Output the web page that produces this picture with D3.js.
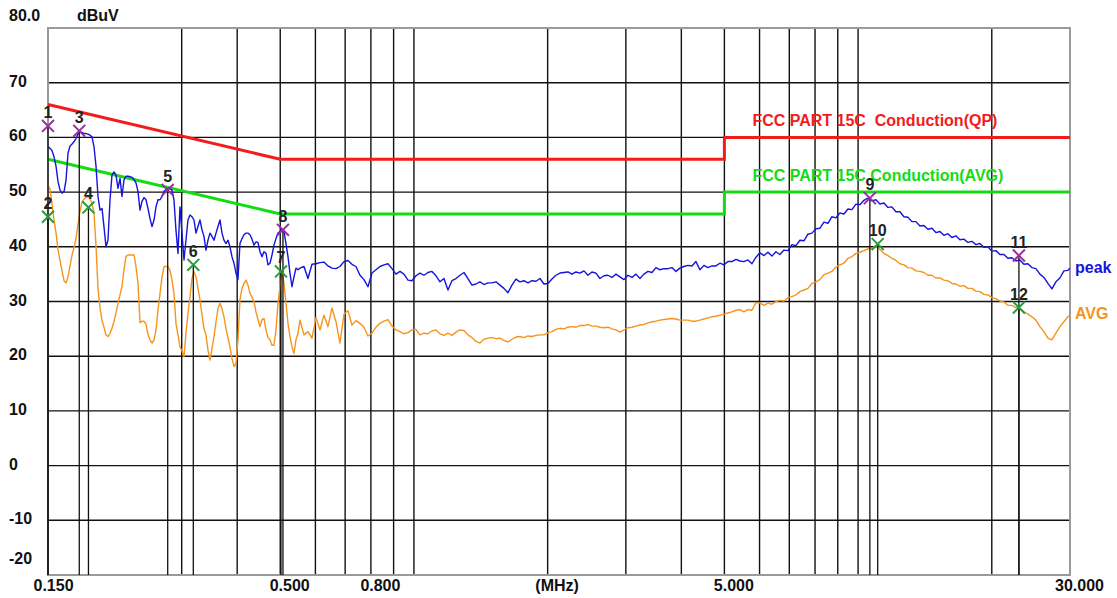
<!DOCTYPE html>
<html><head><meta charset="utf-8">
<script src="https://cdn.jsdelivr.net/npm/d3@7"></script>
<style>
body{margin:0;background:#fff;}
svg{display:block;}
text{font-family:"Liberation Sans",Arial,Helvetica,sans-serif;}
</style>
</head><body>
<svg id="chart" width="1117" height="598"></svg>
<script>
// ---------- DATA ----------
// Sweep frequencies (MHz)
const sweepMHz = [
 0.1500,0.1516,0.1531,0.1547,0.1564,0.1580,0.1596,0.1613,0.1630,0.1647,
 0.1664,0.1681,0.1699,0.1716,0.1734,0.1752,0.1771,0.1789,0.1808,0.1827,
 0.1846,0.1865,0.1884,0.1904,0.1924,0.1944,0.1964,0.1985,0.2005,0.2026,
 0.2047,0.2069,0.2090,0.2112,0.2134,0.2156,0.2179,0.2201,0.2224,0.2247,
 0.2271,0.2295,0.2318,0.2343,0.2367,0.2392,0.2417,0.2442,0.2467,0.2493,
 0.2519,0.2545,0.2572,0.2599,0.2626,0.2653,0.2681,0.2709,0.2737,0.2765,
 0.2794,0.2823,0.2853,0.2882,0.2912,0.2943,0.2973,0.3004,0.3036,0.3067,
 0.3099,0.3132,0.3164,0.3197,0.3231,0.3264,0.3298,0.3333,0.3367,0.3402,
 0.3438,0.3474,0.3510,0.3547,0.3584,0.3621,0.3659,0.3697,0.3735,0.3774,
 0.3814,0.3853,0.3893,0.3934,0.3975,0.4016,0.4058,0.4101,0.4143,0.4186,
 0.4230,0.4274,0.4319,0.4364,0.4409,0.4455,0.4502,0.4549,0.4596,0.4644,
 0.4692,0.4741,0.4791,0.4840,0.4891,0.4942,0.4993,0.5045,0.5098,0.5151,
 0.5205,0.5259,0.5314,0.5369,0.5425,0.5482,0.5539,
 0.5655,0.5773,0.5894,0.6018,0.6144,0.6273,0.6404,0.6538,0.6675,0.6815,
 0.6958,0.7104,0.7252,0.7404,0.7560,0.7718,0.7880,0.8045,0.8213,0.8385,
 0.8561,0.8740,0.8924,0.9111,0.9301,0.9496,0.9695,0.9898,1.0106,1.0317,
 1.0534,1.0754,1.0980,1.1210,1.1445,1.1684,1.1929,1.2179,1.2434,1.2695,
 1.2961,1.3232,1.3510,1.3793,1.4082,1.4377,1.4678,1.4985,1.5299,1.5620,
 1.5947,1.6281,1.6622,1.6971,1.7326,1.7689,1.8060,1.8438,1.8825,1.9219,
 1.9622,2.0033,2.0452,2.0881,2.1319,2.1765,2.2221,2.2687,2.3162,2.3647,
 2.4143,2.4648,2.5165,2.5692,2.6230,2.6780,2.7341,2.7914,2.8499,2.9096,
 2.9705,3.0328,3.0963,3.1612,3.2274,3.2951,3.3641,3.4346,3.5065,3.5800,
 3.6550,3.7316,3.8098,3.8896,3.9711,4.0543,4.1392,4.2260,4.3145,4.4049,
 4.4972,4.5914,4.6876,4.7858,4.8861,4.9884,5.0930,5.1997,5.3086,5.4198,
 5.5334,5.6493,5.7677,5.8885,6.0119,6.1378,6.2664,6.3977,6.5317,6.6686,
 6.8084,6.9510,7.0967,7.2454,7.3972,7.5522,7.7104,7.8720,8.0369,8.2052,
 8.3771,8.5526,8.7318,8.9148,9.1015,9.2922,9.4869,9.6857,9.8886,10.096,
 10.307,10.523,10.744,10.969,11.198,11.433,11.673,11.917,12.167,12.422,
 12.682,12.948,13.219,13.496,13.779,14.067,14.362,14.663,14.970,15.284,
 15.604,15.931,16.265,16.606,16.954,17.309,17.672,18.042,18.420,18.806,
 19.200,19.602,20.013,20.432,20.860,21.297,21.744,22.199,22.664,23.139,
 23.624,24.118,24.624,25.140,25.667,26.204,26.753,27.314,27.886,28.470,
 29.067,29.676,30.000
];
// Peak detector trace (dBuV)
const peakDb = [
 58.3,58.0,57.6,56.5,54.7,51.9,50.4,49.8,50.1,52.2,
 57.1,58.4,58.8,59.2,59.8,60.6,61.0,60.9,60.7,60.7,
 60.6,60.4,60.1,58.3,54.7,49.2,46.7,47.0,43.7,40.0,
 41.2,48.6,53.1,53.7,53.1,50.7,52.5,49.2,52.2,52.9,
 52.9,52.8,52.7,52.3,51.7,50.1,46.7,48.3,49.0,48.6,
 47.0,45.2,43.7,44.9,47.3,48.6,48.6,49.2,50.1,50.5,
 50.7,50.7,50.3,48.6,43.1,38.8,47.3,42.5,37.6,41.2,
 44.9,45.8,45.5,44.9,42.5,43.7,44.9,43.1,41.9,39.4,
 41.2,42.5,41.9,41.2,42.5,43.7,44.9,42.5,41.2,40.6,
 41.2,40.0,38.2,37.0,35.2,34.0,40.6,41.5,42.2,42.5,
 42.5,42.2,41.4,40.3,40.9,40.8,39.1,38.2,39.1,38.8,
 36.7,37.0,38.5,40.3,41.5,42.5,42.8,43.1,42.8,40.6,
 38.2,35.2,32.7,34.5,36.1,35.8,36.1,
 36.4,34.2,36.8,36.9,37.1,37.2,36.5,36.1,36.0,36.4,
 37.3,37.5,36.8,36.4,34.8,34.0,32.7,35.2,35.8,36.4,
 36.7,36.9,36.0,35.0,35.5,35.0,33.9,33.8,34.7,35.2,
 34.8,35.3,35.5,34.7,33.6,34.2,32.1,33.8,34.2,34.8,
 35.3,34.2,33.0,33.2,33.6,33.1,33.4,33.4,33.6,33.0,
 32.4,31.6,33.0,34.1,33.6,33.8,33.4,33.8,33.7,34.2,
 33.2,33.3,34.1,34.8,35.2,35.3,35.4,35.0,35.4,35.2,
 35.6,34.8,35.4,35.2,34.2,34.7,34.8,34.4,35.0,34.5,
 34.0,34.8,34.4,35.0,34.2,35.0,35.5,35.3,36.2,35.8,
 36.0,36.0,36.2,35.5,36.1,36.4,36.6,36.5,37.3,35.8,
 36.6,36.2,36.5,36.5,37.0,36.7,37.3,37.3,37.7,37.4,
 37.3,37.6,36.9,38.1,38.9,38.4,39.0,38.3,39.1,38.6,
 39.4,39.3,40.4,40.2,41.2,41.1,42.3,42.5,43.3,43.4,
 44.5,44.3,45.5,45.3,46.2,46.0,46.9,46.8,47.8,47.7,
 48.5,48.9,48.4,48.6,47.8,48.0,47.2,47.3,46.4,46.4,
 45.5,45.4,44.6,44.6,43.8,43.9,43.2,43.4,42.6,42.8,
 42.1,42.4,41.7,42.0,41.3,41.4,40.8,41.0,40.4,40.6,
 39.9,40.0,39.2,39.3,38.6,38.6,37.9,38.0,37.4,37.6,
 36.8,36.9,36.2,36.0,35.0,34.4,33.3,32.3,33.6,34.3,
 35.6,35.7,36.1
];
// Average detector trace (dBuV)
const avgDb = [
 51.3,50.5,48.0,45.0,42.5,39.5,37.5,35.6,33.8,33.4,
 34.5,36.5,38.5,39.8,41.5,44.0,46.5,48.2,48.7,49.0,
 49.2,48.7,48.0,46.2,40.2,32.3,28.9,26.5,25.3,23.9,
 23.6,24.2,25.1,26.3,27.9,29.7,31.2,32.7,35.8,38.2,
 38.5,38.5,38.5,38.5,36.4,33.3,26.1,26.4,26.4,25.8,
 24.0,23.0,22.4,23.0,24.8,28.5,31.5,34.5,36.4,36.4,
 36.4,35.7,33.9,31.5,26.0,23.9,21.7,21.0,19.9,24.2,
 27.8,30.9,34.2,35.5,34.5,32.4,30.3,27.5,25.1,23.9,
 21.1,19.3,21.4,23.6,26.3,28.7,29.7,28.7,27.2,25.1,
 23.3,21.7,19.6,18.1,18.7,23.0,30.3,32.4,33.3,33.9,
 33.0,31.5,30.8,30.0,28.1,26.7,25.4,26.7,26.9,24.8,
 23.4,23.0,22.0,22.0,24.8,29.7,32.7,35.6,33.3,29.7,
 26.0,23.6,21.7,20.5,23.0,24.2,26.6,
 23.9,24.5,23.3,27.1,24.8,27.5,25.4,28.8,26.3,22.4,
 27.7,28.3,25.7,26.5,26.0,25.3,23.7,24.2,25.3,26.0,
 26.4,26.7,25.5,24.8,24.5,24.1,24.3,24.8,24.9,23.9,
 24.2,24.1,24.6,24.8,24.1,23.8,24.2,23.8,24.4,24.8,
 24.7,23.9,23.4,22.7,22.4,23.1,23.3,23.4,23.2,23.3,
 22.9,22.6,23.1,23.5,23.6,23.4,23.7,23.6,23.8,23.9,
 23.9,24.3,24.5,24.9,25.1,25.0,25.3,25.4,25.3,25.6,
 25.6,25.8,25.5,25.5,25.3,25.2,25.3,25.0,24.8,24.4,
 24.8,25.2,25.3,25.5,25.7,25.8,26.1,26.3,26.4,26.6,
 26.7,26.8,26.9,26.8,26.6,26.6,26.6,26.4,26.4,26.6,
 26.8,27.0,27.2,27.3,27.5,27.7,27.9,28.1,28.4,28.5,
 28.1,28.5,28.4,29.8,29.7,29.3,29.7,29.5,30.0,30.2,
 30.1,30.7,30.9,31.2,31.8,32.1,32.4,33.3,33.6,34.0,
 34.9,35.2,35.5,36.3,36.7,37.0,37.9,38.2,38.8,39.0,
 39.3,39.6,39.7,40.2,39.5,38.8,38.4,37.9,37.5,36.9,
 36.7,36.2,36.1,35.6,35.5,35.3,34.8,34.8,34.3,34.3,
 33.9,33.8,33.3,33.2,32.8,32.9,32.4,32.4,31.9,31.8,
 31.3,31.2,30.7,30.5,30.1,29.9,29.3,29.3,28.9,28.7,
 28.1,27.7,27.2,26.6,25.4,24.5,23.3,23.0,24.2,25.4,
 26.3,27.2,27.5
];
// Limit lines: [MHz, dBuV]
const qpLimit  = [[0.15,66],[0.5,56],[5,56],[5,60],[30,60]];
const avgLimit = [[0.15,56],[0.5,46],[5,46],[5,50],[30,50]];
const qpLimitName  = "FCC PART 15C  Conduction(QP)";
const avgLimitName = "FCC PART 15C Conduction(AVG)";
// Markers
const markerNo   = [1,2,3,4,5,6,7,8,9,10,11,12];
const markerMHz  = [0.150,0.150,0.1764,0.1850,0.2790,0.3186,0.5019,0.5071,10.63,11.07,23.02,23.02];
const markerDb   = [62.1,45.5,61.2,47.2,50.4,36.7,35.5,43.1,48.9,40.5,38.4,28.9];
const markerKind = ["peak","avg","peak","avg","peak","avg","avg","peak","peak","avg","peak","avg"];
// Axes
const yTicks    = [80,70,60,50,40,30,20,10,0,-10,-20];
const yTickText = ["80.0","70","60","50","40","30","20","10","0","-10","-20"];
const xTicks    = [0.15,0.5,0.8,2,5,30];
const xTickText = ["0.150","0.500","0.800","(MHz)","5.000","30.000"];
const gridMHz   = [0.3,0.4,0.5,0.6,0.7,0.8,0.9,1,2,3,4,5,6,7,8,9,10,20];
const gridDb    = [70,60,50,40,30,20,10,0,-10];
const yUnit = "dBuV";
const seriesNames = ["peak","AVG"];

// ---------- LAYOUT / STYLE ----------
const L = 48, R = 1070, T = 28, B = 575;
const C = {
  peak:"#1414dc", avg:"#f7941d", qp:"#f21c1c", avgLim:"#14dc14",
  mPeak:"#9a2f9e", mAvg:"#2a9a3a", grid:"#111", frame:"#9a9a9a"
};
const svg = d3.select("#chart");
const x = d3.scaleLog().domain([0.15,30]).range([L,R]);
const y = d3.scaleLinear().domain([-20,80]).range([B,T]);

// grid
const g = svg.append("g");
g.selectAll("line.v").data(gridMHz).join("line")
  .attr("x1",d=>x(d)).attr("x2",d=>x(d)).attr("y1",T).attr("y2",B)
  .attr("stroke",C.grid).attr("stroke-width",1.4);
g.selectAll("line.h").data(gridDb).join("line")
  .attr("x1",L).attr("x2",R).attr("y1",d=>y(d)).attr("y2",d=>y(d))
  .attr("stroke",C.grid).attr("stroke-width",1.4);
// frame
svg.append("rect").attr("x",L).attr("y",T).attr("width",R-L).attr("height",B-T)
  .attr("fill","none").attr("stroke",C.frame).attr("stroke-width",2);

// y axis labels
const yAxis = d3.axisLeft(y).tickValues(yTicks).tickSize(0)
  .tickFormat((d,i)=>yTickText[i]);
const ya = svg.append("g").attr("transform","translate(9,0)").call(yAxis);
ya.select(".domain").remove();
ya.selectAll("text").attr("x",0).attr("text-anchor","start")
  .attr("font-size",16).attr("font-weight","bold").attr("fill","#111")
  .attr("font-family","Liberation Sans, Arial, sans-serif")
  .attr("dy",d=> d===80 ? "-0.5em" : d===-20 ? "-0.75em" : "0.22em");
svg.append("text").attr("x",77).attr("y",T-7).text(yUnit)
  .attr("font-size",16).attr("font-weight","bold").attr("fill","#111");

// x axis labels
const xAxis = d3.axisBottom(x).tickValues(xTicks).tickSize(0).tickPadding(5)
  .tickFormat((d,i)=>xTickText[i]);
const xa = svg.append("g").attr("transform",`translate(0,${B})`).call(xAxis);
xa.select(".domain").remove();
xa.selectAll("text").attr("dx",(d,i)=> i===0 ? 5 : 9)
  .attr("font-size",16).attr("font-weight","bold").attr("fill","#111")
  .attr("font-family","Liberation Sans, Arial, sans-serif");

// limit lines
const lim = d3.line().x(d=>x(d[0])).y(d=>y(d[1]));
svg.append("path").attr("d",lim(qpLimit)).attr("fill","none")
  .attr("stroke",C.qp).attr("stroke-width",3);
svg.append("path").attr("d",lim(avgLimit)).attr("fill","none")
  .attr("stroke",C.avgLim).attr("stroke-width",3);
svg.append("text").attr("x",x(5)+28).attr("y",y(60)-11).text(qpLimitName)
  .attr("font-size",16).attr("font-weight","bold").attr("fill",C.qp)
  .attr("xml:space","preserve").style("white-space","pre");
svg.append("text").attr("x",x(5)+28).attr("y",y(50)-11).text(avgLimitName)
  .attr("font-size",16).attr("font-weight","bold").attr("fill",C.avgLim);

// traces
const tr = d3.line().x(d=>x(d[0])).y(d=>y(d[1]));
svg.append("path").attr("d",tr(d3.zip(sweepMHz,avgDb))).attr("fill","none")
  .attr("stroke",C.avg).attr("stroke-width",1.4).attr("stroke-linejoin","round");
svg.append("path").attr("d",tr(d3.zip(sweepMHz,peakDb))).attr("fill","none")
  .attr("stroke",C.peak).attr("stroke-width",1.4).attr("stroke-linejoin","round");

// series labels
svg.append("text").attr("x",R+5).attr("y",y(peakDb[peakDb.length-1])+5).text(seriesNames[0])
  .attr("font-size",16).attr("font-weight","bold").attr("fill",C.peak);
svg.append("text").attr("x",R+5).attr("y",y(avgDb[avgDb.length-1])+4).text(seriesNames[1])
  .attr("font-size",16).attr("font-weight","bold").attr("fill",C.avg);

// markers
const mk = markerNo.map((n,i)=>({n, f:markerMHz[i], v:markerDb[i], k:markerKind[i]}));
svg.selectAll("line.mk").data(mk).join("line")
  .attr("x1",d=>x(d.f)).attr("x2",d=>x(d.f)).attr("y1",d=>y(d.v)).attr("y2",B)
  .attr("stroke","#111").attr("stroke-width",1.3);
const sym = d3.symbol(d3.symbolX, 95);
svg.selectAll("path.mk").data(mk).join("path")
  .attr("d",sym).attr("transform",d=>`translate(${x(d.f)},${y(d.v)})`)
  .attr("fill","none").attr("stroke",d=>d.k==="peak"?C.mPeak:C.mAvg).attr("stroke-width",2);
svg.selectAll("text.mk").data(mk).join("text")
  .attr("x",d=>x(d.f)).attr("y",d=>y(d.v)-8).attr("text-anchor","middle")
  .text(d=>d.n).attr("font-size",16).attr("font-weight","bold").attr("fill","#222");
</script>
</body></html>
